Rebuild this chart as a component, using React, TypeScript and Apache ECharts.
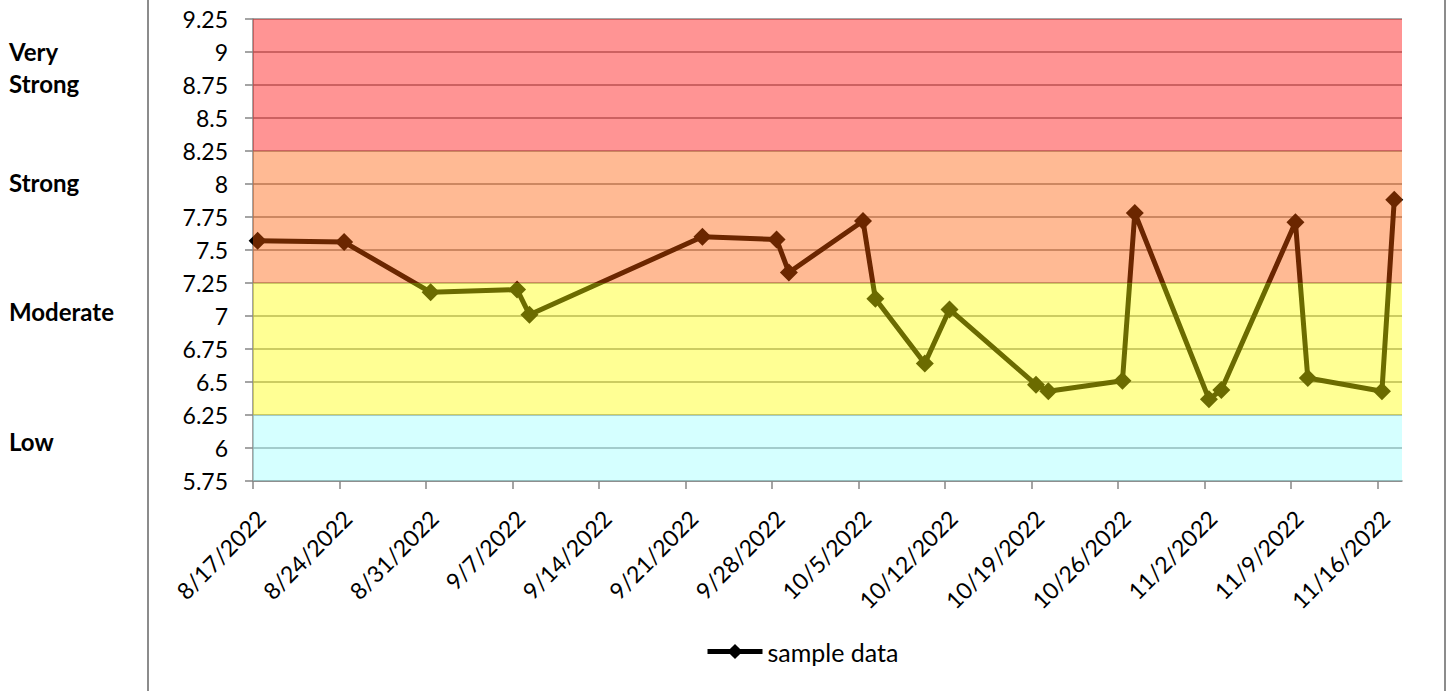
import React, { useEffect, useRef } from "react";
import * as echarts from "echarts";

// ---- data ----
const startDate = "2022-08-17";
const endDate = "2022-11-18";
const sampleDates = [
  "2022-08-17T09:00", "2022-08-24T09:00", "2022-08-31T09:00", "2022-09-07T09:00",
  "2022-09-08T09:00", "2022-09-22T09:00", "2022-09-28T09:00", "2022-09-29T09:00",
  "2022-10-05T09:00", "2022-10-06T09:00", "2022-10-10T09:00", "2022-10-12T09:00",
  "2022-10-19T09:00", "2022-10-20T09:00", "2022-10-26T09:00", "2022-10-27T09:00",
  "2022-11-02T09:00", "2022-11-03T09:00", "2022-11-09T09:00", "2022-11-10T09:00",
  "2022-11-16T09:00", "2022-11-17T09:00",
];
const sampleValues = [
  7.57, 7.56, 7.18, 7.2, 7.01, 7.6, 7.58, 7.33, 7.72, 7.13, 6.64, 7.05,
  6.48, 6.43, 6.51, 7.78, 6.37, 6.44, 7.71, 6.53, 6.43, 7.88,
];
const tickDates = [
  "2022-08-17", "2022-08-24", "2022-08-31", "2022-09-07", "2022-09-14", "2022-09-21",
  "2022-09-28", "2022-10-05", "2022-10-12", "2022-10-19", "2022-10-26", "2022-11-02",
  "2022-11-09", "2022-11-16",
];
const yMin = 5.75;
const yMax = 9.25;
const yStep = 0.25;
const bandLows = [5.75, 6.25, 7.25, 8.25];
const bandHighs = [6.25, 7.25, 8.25, 9.25];
const bandColors = [
  "rgba(155,255,255,0.42)",
  "rgba(255,255,0,0.42)",
  "rgba(255,90,0,0.42)",
  "rgba(255,0,0,0.42)",
];
const strengthLabels = ["Very", "Strong", "Strong", "Moderate", "Low"];
const seriesName = "sample data";

const DAY = 86400000;
const toUtc = (s: string) => Date.parse((s.length === 10 ? s + "T00:00" : s) + ":00Z");
const dayOf = (s: string) => (toUtc(s) - toUtc(startDate)) / DAY;
const fmtDate = (v: number) => {
  const d = new Date(toUtc(startDate) + Math.round(v) * DAY);
  return `${d.getUTCMonth() + 1}/${d.getUTCDate()}/${d.getUTCFullYear()}`;
};

const FONT = "Lato, 'Open Sans', sans-serif";

export default function App() {
  const ref = useRef<HTMLDivElement>(null);
  useEffect(() => {
    if (!ref.current) return;
    document.body.style.margin = "0";
    document.body.style.overflow = "hidden";
    const chart = echarts.init(ref.current, undefined, { renderer: "svg" });
    const xMax = dayOf(endDate);
    const tickValues = tickDates.map(dayOf);
    const lineData = sampleDates.map((d, i) => [dayOf(d), sampleValues[i]]);
    const bandData = bandLows.map((lo, i) => [0, lo, xMax, bandHighs[i]]);
    const labelY = [53, 85, 184, 313, 443];

    chart.setOption({
      animation: false,
      grid: { left: 253, top: 19, right: 48, bottom: 210, containLabel: false },
      xAxis: {
        type: "value",
        min: 0,
        max: xMax,
        axisLine: { show: true, onZero: false, lineStyle: { color: "#868686", width: 1.5 } },
        axisTick: { show: true, length: 8, customValues: tickValues, lineStyle: { color: "#868686", width: 1.5 } },
        axisLabel: {
          customValues: tickValues,
          rotate: 45,
          margin: 25,
          verticalAlign: "top",
          align: "right",
          formatter: (v: number) => fmtDate(v),
          color: "#000",
          fontFamily: FONT,
          fontSize: 23,
        },
        splitLine: { show: false },
      },
      yAxis: {
        type: "value",
        min: yMin,
        max: yMax,
        interval: yStep,
        axisLine: { show: true, lineStyle: { color: "#868686", width: 1.5 } },
        axisTick: { show: true, length: 8, lineStyle: { color: "#868686", width: 1.5 } },
        axisLabel: { margin: 25, color: "#000", fontFamily: FONT, fontSize: 23 },
        splitLine: { show: true, lineStyle: { color: "#8a8a8a", width: 1.5 } },
      },
      legend: {
        data: [seriesName],
        left: 705,
        top: 639,
        padding: 0,
        itemWidth: 55,
        itemHeight: 19,
        lineStyle: { width: 5, color: "#000" },
        textStyle: { color: "#000", fontFamily: FONT, fontSize: 25 },
      },
      series: [
        {
          name: seriesName,
          type: "line",
          z: 2,
          data: lineData,
          symbol: "diamond",
          symbolSize: 18,
          lineStyle: { color: "#000", width: 5 },
          itemStyle: { color: "#000" },
        },
        {
          name: "bands",
          type: "custom",
          z: 3,
          silent: true,
          encode: { x: [0, 2], y: [1, 3] },
          data: bandData,
          renderItem: (params: any, api: any) => {
            const p1 = api.coord([api.value(0), api.value(3)]);
            const p2 = api.coord([api.value(2), api.value(1)]);
            return {
              type: "rect",
              shape: { x: p1[0], y: p1[1], width: p2[0] - p1[0], height: p2[1] - p1[1] },
              style: { fill: bandColors[params.dataIndex] },
            };
          },
        },
      ],
      graphic: [
        { type: "rect", z: 100, shape: { x: 147, y: -5, width: 2, height: 701 }, style: { fill: "#8c8c8c" } },
        { type: "rect", z: 100, shape: { x: 1444, y: -5, width: 2, height: 701 }, style: { fill: "#8c8c8c" } },
        ...strengthLabels.map((t, i) => ({
          type: "text",
          left: 9,
          top: labelY[i] - 14,
          style: { text: t, font: `bold 24px ${FONT}`, fill: "#000" },
        })),
      ],
    });
    return () => chart.dispose();
  }, []);
  return <div ref={ref} style={{ position: "absolute", left: 0, top: 0, width: 1450, height: 691 }} />;
}
